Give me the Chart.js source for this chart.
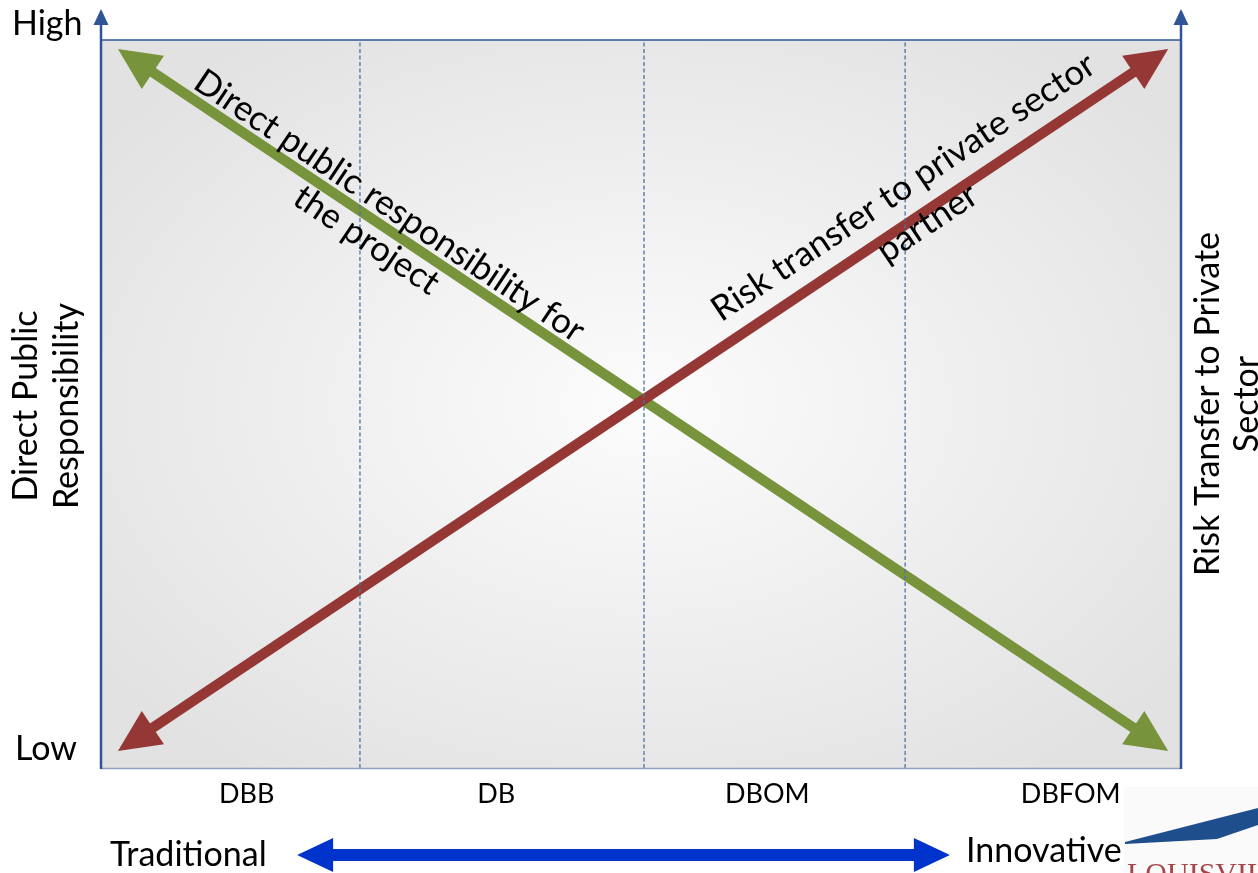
<!DOCTYPE html>
<html>
<head>
<meta charset="utf-8">
<script src="https://cdn.jsdelivr.net/npm/chart.js@4.4.1/dist/chart.umd.min.js"></script>
<style>
  html, body { margin: 0; padding: 0; background: #fff; }
  #wrap { width: 1258px; height: 873px; }
</style>
</head>
<body>
<div id="wrap"><canvas id="chart" width="1258" height="873"></canvas></div>
<script>
// procurement models along the x axis (x runs 0..4)
const models = ["DBB", "DB", "DBOM", "DBFOM"];
const modelLabelX = [0.54, 1.465, 2.47, 3.595];
const dividerX = [0.96, 2.013, 2.981];

// the two crossing arrows (y: 0 = low, 1 = high)
const publicRespX = [0.106, 3.913];
const publicRespY = [0.977, 0.034];
const riskTransferX = [0.106, 3.913];
const riskTransferY = [0.034, 0.977];

const publicRespText = ["Direct public responsibility for", "the project"];
const riskTransferText = ["Risk transfer to private sector", "partner"];

const leftTitle = ["Direct Public", "Responsibility"];
const rightTitle = ["Risk Transfer to Private", "Sector"];
const yEnds = ["High", "Low"];
const spectrum = ["Traditional", "Innovative"];
const spectrumArrowX = [0.727, 3.147];

const FONT = "Lato, 'Open Sans', sans-serif";
const GREEN = "#77933c";
const RED = "#953735";
const AXIS = "#2f5597";

function pts(xs, ys) {
    return xs.map((x, i) => ({ x: x, y: ys[i] }));
}

// triangle head, tip pushed a bit past the line end so it covers the butt end
function drawHead(ctx, from, to, color, len, half, ext) {
    const ang = Math.atan2(to.y - from.y, to.x - from.x);
    ctx.save();
    ctx.translate(to.x + Math.cos(ang) * ext, to.y + Math.sin(ang) * ext);
    ctx.rotate(ang);
    ctx.beginPath();
    ctx.moveTo(0, 0);
    ctx.lineTo(-len, -half);
    ctx.lineTo(-len, half);
    ctx.closePath();
    ctx.fillStyle = color;
    ctx.fill();
    ctx.restore();
}

// two-line label running along an arrow
function alongText(ctx, meta, frac, lines, offsets, size) {
    const a = meta.data[0], b = meta.data[1];
    const ang = Math.atan2(b.y - a.y, b.x - a.x);
    ctx.save();
    ctx.translate(a.x + (b.x - a.x) * frac, a.y + (b.y - a.y) * frac);
    ctx.rotate(ang);
    ctx.font = size + "px " + FONT;
    ctx.fillStyle = "#000";
    ctx.textAlign = "center";
    ctx.textBaseline = "alphabetic";
    lines.forEach((t, i) => ctx.fillText(t, 0, -offsets[i]));
    ctx.restore();
}

function vertText(ctx, lines, xs, cy, size) {
    ctx.save();
    ctx.font = size + "px " + FONT;
    ctx.fillStyle = "#000";
    ctx.textAlign = "center";
    ctx.textBaseline = "alphabetic";
    lines.forEach((t, i) => {
        ctx.save();
        ctx.translate(xs[i], cy);
        ctx.rotate(-Math.PI / 2);
        ctx.fillText(t, 0, 0);
        ctx.restore();
    });
    ctx.restore();
}

const backdrop = {
    id: "backdrop",
    beforeDatasetsDraw(chart) {
        const { ctx, chartArea } = chart;
        const { left, top, right, bottom } = chartArea;
        const w = right - left, h = bottom - top;
        ctx.save();
        ctx.beginPath();
        ctx.rect(left, top, w, h);
        ctx.clip();
        ctx.translate(left + w / 2, top + h / 2);
        ctx.scale(1, h / w);
        const g = ctx.createRadialGradient(0, 0, 0, 0, 0, w * 0.62);
        g.addColorStop(0, "#fcfcfc");
        g.addColorStop(1, "#e2e2e2");
        ctx.fillStyle = g;
        ctx.fillRect(-w, -w, 2 * w, 2 * w);
        ctx.restore();
    }
};

const arrowHeads = {
    id: "arrowHeads",
    afterDatasetDraw(chart, args) {
        const ds = chart.data.datasets[args.index];
        if (!ds.arrow) return;
        const p = args.meta.data;
        drawHead(chart.ctx, p[1], p[0], ds.borderColor, 42, 20, 14);
        drawHead(chart.ctx, p[0], p[1], ds.borderColor, 42, 20, 14);
    }
};

const decorations = {
    id: "decorations",
    afterDraw(chart) {
        const { ctx, chartArea, scales } = chart;
        const { left, top, right, bottom } = chartArea;
        const xs = scales.x;

        // frame
        ctx.save();
        ctx.strokeStyle = "#8ea2c0";
        ctx.lineWidth = 1.5;
        ctx.beginPath();
        ctx.moveTo(left, bottom + 0.5);
        ctx.lineTo(right, bottom + 0.5);
        ctx.stroke();
        ctx.strokeStyle = AXIS;
        ctx.lineWidth = 1.5;
        ctx.beginPath();
        ctx.moveTo(left, top);
        ctx.lineTo(right + 1, top);
        ctx.stroke();
        ctx.lineWidth = 2.5;
        [left, right + 1].forEach(x => {
            ctx.beginPath();
            ctx.moveTo(x, bottom + 1);
            ctx.lineTo(x, 24);
            ctx.stroke();
            ctx.beginPath();
            ctx.moveTo(x, 9);
            ctx.lineTo(x - 7.5, 25);
            ctx.lineTo(x + 7.5, 25);
            ctx.closePath();
            ctx.fillStyle = AXIS;
            ctx.fill();
        });
        ctx.restore();

        // high / low
        ctx.save();
        ctx.font = "34px " + FONT;
        ctx.fillStyle = "#000";
        ctx.textAlign = "left";
        ctx.fillText(yEnds[0], 12, 35);
        ctx.fillText(yEnds[1], 15, 760);
        ctx.restore();

        vertText(ctx, leftTitle, [37, 78], 406, 34);
        vertText(ctx, rightTitle, [1219, 1258], 404, 34);

        // model labels under the plot
        ctx.save();
        ctx.font = "27px " + FONT;
        ctx.fillStyle = "#000";
        ctx.textAlign = "center";
        models.forEach((m, i) => ctx.fillText(m, xs.getPixelForValue(modelLabelX[i]), 803));
        ctx.restore();

        // arrow labels
        alongText(ctx, chart.getDatasetMeta(4), 0.242, publicRespText, [9, -32], 35);
        alongText(ctx, chart.getDatasetMeta(3), 0.771, riskTransferText, [21, -22], 35);

        // traditional <-> innovative
        const ax0 = xs.getPixelForValue(spectrumArrowX[0]);
        const ax1 = xs.getPixelForValue(spectrumArrowX[1]);
        const ay = 855;
        ctx.save();
        ctx.fillStyle = "#0033cc";
        ctx.fillRect(ax0 + 30, ay - 6, ax1 - ax0 - 60, 12);
        drawHead(ctx, { x: ax1, y: ay }, { x: ax0, y: ay }, "#0033cc", 36, 17, 0);
        drawHead(ctx, { x: ax0, y: ay }, { x: ax1, y: ay }, "#0033cc", 36, 17, 0);
        ctx.font = "34px " + FONT;
        ctx.fillStyle = "#000";
        ctx.textAlign = "left";
        ctx.fillText(spectrum[0], 110, 866);
        ctx.fillText(spectrum[1], 966, 862);
        ctx.restore();

        // corner logo fragment
        ctx.save();
        ctx.fillStyle = "#fafafa";
        ctx.fillRect(1124, 787, 134, 86);
        ctx.fillStyle = "#1f4e8c";
        ctx.beginPath();
        ctx.moveTo(1125, 842);
        ctx.lineTo(1258, 808);
        ctx.lineTo(1258, 825);
        ctx.lineTo(1217, 839);
        ctx.lineTo(1125, 844);
        ctx.closePath();
        ctx.fill();
        ctx.font = "30px 'Liberation Serif', serif";
        ctx.fillStyle = "#a5454a";
        ctx.fillText("LOUISVILLE", 1127, 883);
        ctx.restore();
    }
};

function buildChart() {
    const dividers = dividerX.map(x => ({
        data: pts([x, x], [0, 1]),
        borderColor: "#4a72a8",
        borderWidth: 1.3,
        borderDash: [4, 2.5],
        pointRadius: 0,
        showLine: true
    }));

    new Chart(document.getElementById("chart"), {
        type: "scatter",
        data: {
            datasets: dividers.concat([
                {
                    label: "Risk transfer to private sector partner",
                    data: pts(riskTransferX, riskTransferY),
                    borderColor: RED,
                    borderWidth: 10.5,
                    borderCapStyle: "butt",
                    pointRadius: 0,
                    showLine: true,
                    arrow: true
                },
                {
                    label: "Direct public responsibility for the project",
                    data: pts(publicRespX, publicRespY),
                    borderColor: GREEN,
                    borderWidth: 10.5,
                    borderCapStyle: "butt",
                    pointRadius: 0,
                    showLine: true,
                    arrow: true
                }
            ])
        },
        options: {
            responsive: false,
            animation: false,
            events: [],
            layout: { padding: { left: 101, right: 78, top: 40, bottom: 105 } },
            plugins: { legend: { display: false }, tooltip: { enabled: false } },
            scales: {
                x: { type: "linear", min: 0, max: 4, display: false },
                y: { type: "linear", min: 0, max: 1, display: false }
            }
        },
        plugins: [backdrop, arrowHeads, decorations]
    });
}

document.fonts.load("34px Lato").then(buildChart, buildChart);
</script>
</body>
</html>
